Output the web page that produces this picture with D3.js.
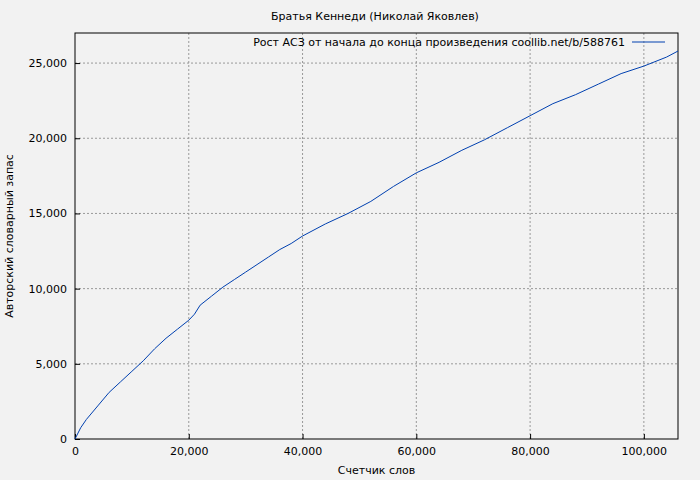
<!DOCTYPE html>
<html><head><meta charset="utf-8">
<script src="https://cdn.jsdelivr.net/npm/d3@7"></script>
<style>body{margin:0;background:#f2f2f2}text{font-family:"DejaVu Sans",sans-serif}</style>
</head><body><svg></svg>
<script>
const words = [0,1000,2000,4000,6000,8000,10000,12000,14000,16000,18000,20000,21000,22000,24000,26000,28000,30000,32000,34000,36000,38000,40000,44000,48000,52000,56000,60000,64000,68000,72000,76000,80000,84000,88000,92000,96000,100000,104000,106000];
const vocab = [0,750,1300,2200,3100,3800,4500,5200,6000,6700,7300,7900,8300,8900,9500,10100,10600,11100,11600,12100,12600,13000,13500,14300,15000,15800,16800,17700,18400,19200,19900,20700,21500,22300,22900,23600,24300,24800,25400,25800];
const xTicks = [0,20000,40000,60000,80000,100000];
const yTicks = [0,5000,10000,15000,20000,25000];

const w = 700, h = 480;
const margin = {top: 33, bottom: 41, left: 75, right: 22};
const chartW = w - margin.left - margin.right, chartH = h - margin.top - margin.bottom;
const svg = d3.select("svg").attr("width", w).attr("height", h);
const chart = svg.append("g").attr("transform", `translate(${margin.left},${margin.top})`);

const x = d3.scaleLinear().domain([0, 106000]).range([0, chartW]);
const y = d3.scaleLinear().domain([0, 27000]).range([chartH, 0]);

// grid
chart.selectAll(".gx").data(xTicks.slice(1)).enter().append("line")
  .attr("x1", d => x(d)).attr("x2", d => x(d)).attr("y1", 0).attr("y2", chartH)
  .attr("stroke", "#999").attr("stroke-dasharray", "2,2");
chart.selectAll(".gy").data(yTicks.slice(1)).enter().append("line")
  .attr("y1", d => y(d)).attr("y2", d => y(d)).attr("x1", 0).attr("x2", chartW)
  .attr("stroke", "#999").attr("stroke-dasharray", "2,2");

// axes, ticks pointing inward
const xa = chart.append("g").attr("transform", `translate(0,${chartH})`)
  .call(d3.axisBottom(x).tickValues(xTicks).tickSizeInner(-5).tickSizeOuter(0).tickPadding(8));
const ya = chart.append("g")
  .call(d3.axisLeft(y).tickValues(yTicks).tickSizeInner(-5).tickSizeOuter(0).tickPadding(8));
[xa, ya].forEach(a => {
  a.select(".domain").remove();
  a.selectAll("text").style("font-size", "11px").attr("fill", "#000");
});
chart.append("rect").attr("width", chartW).attr("height", chartH)
  .attr("fill", "none").attr("stroke", "#000");

chart.append("path").datum(words.map((d, i) => [d, vocab[i]]))
  .attr("fill", "none").attr("stroke", "#0040b0").attr("stroke-width", 1)
  .attr("d", d3.line().x(d => x(d[0])).y(d => y(d[1])));

// legend
svg.append("text").attr("x", 625).attr("y", 46).attr("text-anchor", "end")
  .style("font-size", "11px").text("Рост АСЗ от начала до конца произведения coollib.net/b/588761");
svg.append("line").attr("x1", 632).attr("x2", 665).attr("y1", 42).attr("y2", 42)
  .attr("stroke", "#0040b0");

svg.append("text").attr("x", 375).attr("y", 20).attr("text-anchor", "middle")
  .style("font-size", "11px").text("Братья Кеннеди (Николай Яковлев)");
svg.append("text").attr("x", margin.left + chartW / 2).attr("y", 474).attr("text-anchor", "middle")
  .style("font-size", "11px").text("Счетчик слов");
svg.append("text").attr("transform", "rotate(-90)").attr("x", -(margin.top + chartH / 2)).attr("y", 13)
  .attr("text-anchor", "middle").style("font-size", "11px").text("Авторский словарный запас");
</script></body></html>
